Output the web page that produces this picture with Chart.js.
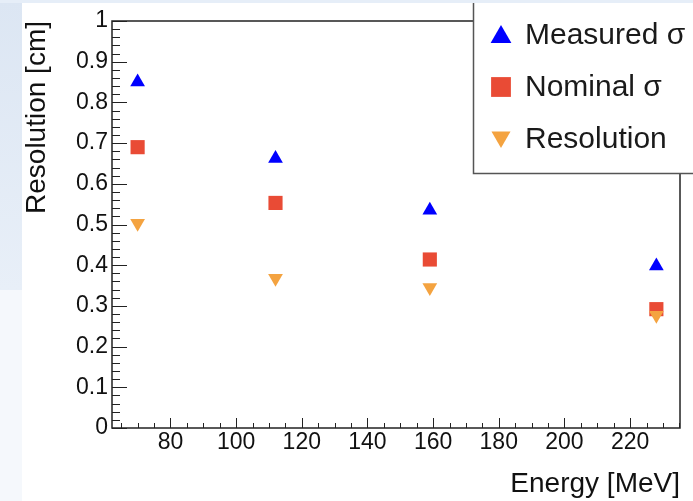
<!DOCTYPE html>
<html>
<head>
<meta charset="utf-8">
<script src="https://cdn.jsdelivr.net/npm/chart.js@4/dist/chart.umd.min.js"></script>
<style>
html, body { margin: 0; padding: 0; background: #fff; }
#wrap { width: 693px; height: 501px; }
</style>
</head>
<body>
<div id="wrap"><canvas id="mycanvas" width="693" height="501"></canvas></div>
<script>
// values
var energy = [70, 112, 159, 228];
var measuredSigma = [0.85, 0.662, 0.535, 0.398];
var nominalSigma = [0.69, 0.553, 0.414, 0.292];
var resolution = [0.503, 0.368, 0.345, 0.277];

var seriesNames = ['Measured σ', 'Nominal σ', 'Resolution'];
var xTickLabels = [80, 100, 120, 140, 160, 180, 200, 220];
var yTickLabels = [0, 0.1, 0.2, 0.3, 0.4, 0.5, 0.6, 0.7, 0.8, 0.9, 1];

var FONT = '"Liberation Sans", Arial, Helvetica, sans-serif';

function points(ys) {
	var out = [];
	for (var i in energy) {
		out.push({x: energy[i], y: ys[i]});
	}
	return out;
}

function marker(ctx, style, rot, r, x, y, color) {
	ctx.fillStyle = color;
	ctx.beginPath();
	if (style === 'rect') {
		var s = r * Math.SQRT1_2;
		ctx.rect(x - s, y - s, 2 * s, 2 * s);
	} else {
		var a = rot * Math.PI / 180;
		for (var k = 0; k < 3; k++) {
			var px = x + Math.sin(a) * r, py = y - Math.cos(a) * r;
			if (k === 0) ctx.moveTo(px, py); else ctx.lineTo(px, py);
			a += 2 * Math.PI / 3;
		}
		ctx.closePath();
	}
	ctx.fill();
}

// ROOT-like frame, inner ticks, slide background and legend box
var rootLook = {
	id: 'rootLook',
	beforeDraw: function(chart) {
		var ctx = chart.ctx;
		ctx.save();
		ctx.fillStyle = '#f5f8fc';
		ctx.fillRect(0, 0, 693, 501);
		var g = ctx.createLinearGradient(0, 0, 0, 290);
		g.addColorStop(0, '#dce6f3');
		g.addColorStop(1, '#e8eff8');
		ctx.fillStyle = g;
		ctx.fillRect(0, 0, 22, 290);
		ctx.fillStyle = '#e6eef8';
		ctx.fillRect(0, 0, 693, 3);
		ctx.fillStyle = '#ffffff';
		ctx.fillRect(22, 3, 671, 498);
		ctx.restore();
	},
	beforeDatasetsDraw: function(chart) {
		var ctx = chart.ctx, ca = chart.chartArea;
		var xs = chart.scales.x, ys = chart.scales.y;
		ctx.save();
		ctx.strokeStyle = '#222';
		ctx.lineWidth = 1.5;
		ctx.strokeRect(ca.left, ca.top, ca.right - ca.left, ca.bottom - ca.top);
		ctx.lineWidth = 1;
		ctx.beginPath();
		for (var k = 0; k <= 50; k++) {
			var py = Math.round(ys.getPixelForValue(k * 0.02)) + 0.5;
			var len = (k % 5 === 0) ? 15 : 8;
			ctx.moveTo(ca.left, py);
			ctx.lineTo(ca.left + len, py);
		}
		for (var e = 65; e <= 235; e += 5) {
			var px = Math.round(xs.getPixelForValue(e)) + 0.5;
			var l2 = (e % 20 === 0) ? 10 : 5;
			ctx.moveTo(px, ca.bottom);
			ctx.lineTo(px, ca.bottom - l2);
		}
		ctx.stroke();
		ctx.restore();
	},
	afterDraw: function(chart) {
		var ctx = chart.ctx;
		ctx.save();
		ctx.fillStyle = '#ffffff';
		ctx.fillRect(473.5, 3, 220, 170.5);
		ctx.strokeStyle = '#555';
		ctx.lineWidth = 1.5;
		ctx.beginPath();
		ctx.moveTo(473.5, 3);
		ctx.lineTo(473.5, 173.5);
		ctx.lineTo(693, 173.5);
		ctx.stroke();

		var rows = [35, 87, 139];
		var sizes = [12, 14, 11];
		ctx.font = '30px ' + FONT;
		ctx.textBaseline = 'middle';
		ctx.textAlign = 'left';
		chart.data.datasets.forEach(function(ds, i) {
			marker(ctx, ds.pointStyle, ds.pointRotation || 0, sizes[i], 501, rows[i] + (ds.pointStyle === 'triangle' ? (ds.pointRotation ? -2 : 2) : 0), ds.backgroundColor);
			ctx.fillStyle = '#1a1a1a';
			ctx.fillText(ds.label, 525, rows[i] + 1);
		});
		ctx.restore();
	}
};

var chartdata = {
	datasets: [
		{
			label: seriesNames[0],
			data: points(measuredSigma),
			pointStyle: 'triangle',
			pointRadius: 8.5,
			pointBorderWidth: 0,
			backgroundColor: '#0000ff',
			order: 2
		},
		{
			label: seriesNames[1],
			data: points(nominalSigma),
			pointStyle: 'rect',
			pointRadius: 10,
			pointBorderWidth: 0,
			backgroundColor: '#e94b35',
			order: 1
		},
		{
			label: seriesNames[2],
			data: points(resolution),
			pointStyle: 'triangle',
			pointRotation: 180,
			pointRadius: 8.5,
			pointBorderWidth: 0,
			backgroundColor: '#f4a340',
			order: 0
		}
	]
};

var ctx = document.getElementById('mycanvas');

var ScatterGraph = new Chart(ctx, {
	type: 'scatter',
	data: chartdata,
	options: {
		responsive: false,
		animation: false,
		devicePixelRatio: 1,
		layout: { padding: { top: 21, right: 13, bottom: 0, left: 0 } },
		plugins: {
			legend: { display: false },
			tooltip: { enabled: false }
		},
		scales: {
			x: {
				type: 'linear',
				min: 62.2,
				max: 235.2,
				grid: { display: false, drawTicks: false },
				border: { display: false },
				afterBuildTicks: function(s) {
					s.ticks = xTickLabels.map(function(v) { return {value: v}; });
				},
				afterFit: function(s) { s.height = 73; },
				ticks: {
					font: { family: FONT, size: 23 },
					color: '#111',
					padding: 1,
					maxRotation: 0,
					autoSkip: false,
					callback: function(v) { return v; }
				},
				title: {
					display: true,
					text: 'Energy [MeV]',
					align: 'end',
					color: '#111',
					font: { family: FONT, size: 28 },
					padding: 0
				}
			},
			y: {
				min: 0,
				max: 1,
				grid: { display: false, drawTicks: false },
				border: { display: false },
				afterBuildTicks: function(s) {
					s.ticks = yTickLabels.map(function(v) { return {value: v}; });
				},
				afterFit: function(s) { s.width = 112; },
				ticks: {
					font: { family: FONT, size: 23 },
					color: '#111',
					padding: 4,
					autoSkip: false,
					callback: function(v) { return String(v); }
				},
				title: {
					display: true,
					text: 'Resolution [cm]',
					align: 'end',
					color: '#111',
					font: { family: FONT, size: 28 },
					padding: { top: 20 }
				}
			}
		}
	},
	plugins: [rootLook]
});
</script>
</body>
</html>
